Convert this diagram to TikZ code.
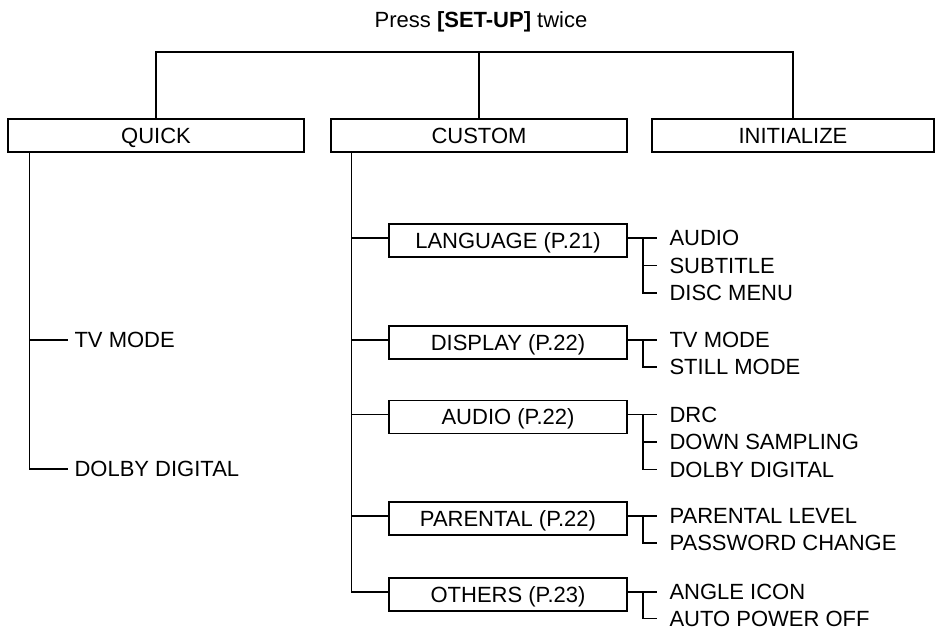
\documentclass[tikz,border=0pt]{standalone}
\usepackage{fontspec}
\setmainfont{Liberation Sans}
\usepackage{tikz}

\tikzset{
  menubox/.style={draw,minimum height=33pt,inner sep=0pt,text height=15.8pt,text depth=0pt},
  item/.style={anchor=west,inner ysep=0pt,inner xsep=12pt,text height=15.8pt,text depth=0pt},
}

\begin{document}
\begin{tikzpicture}[x=1pt,y=-1pt,line width=1.1pt,font=\fontsize{22}{26}\selectfont]
\useasboundingbox (0,0) rectangle (935,629);
\node (title) at (481,22) {Press \textbf{[SET-UP]} twice};
\node[menubox,minimum width=296pt] (quick) at (156,135.5) {QUICK};
\node[menubox,minimum width=296pt] (custom) at (479,135.5) {CUSTOM};
\node[menubox,minimum width=282pt] (init) at (793,135.5) {INITIALIZE};
\coordinate (bar) at (475,52);
\draw (quick.north) |- (bar) -| (init.north);
\draw (custom.north) -- (custom.north |- bar);
% quick
\node[item,inner xsep=6pt] (qtv) at (68,340) {TV MODE};
\node[item,inner xsep=6pt] (qdolby) at (68,469) {DOLBY DIGITAL};
\coordinate (qs) at ([xshift=22pt]quick.south west);
\draw (qs) |- (qdolby.west);
\draw (qs |- qtv.west) -- (qtv.west);
% custom
\node[menubox,minimum width=238pt] (lang) at (508,240.5) {LANGUAGE (P.21)};
\node[menubox,minimum width=238pt] (disp) at (508,342.5) {DISPLAY (P.22)};
\node[menubox,minimum width=238pt] (aud) at (508,417) {AUDIO (P.22)};
\node[menubox,minimum width=238pt] (par) at (508,518.5) {PARENTAL (P.22)};
\node[menubox,minimum width=238pt] (oth) at (508,594.5) {OTHERS (P.23)};
\node[item] (l1) at (657,238) {AUDIO};
\node[item] (l2) at (657,265.5) {SUBTITLE};
\node[item] (l3) at (657,293) {DISC MENU};
\node[item] (d1) at (657,340) {TV MODE};
\node[item] (d2) at (657,367) {STILL MODE};
\node[item] (a1) at (657,414.5) {DRC};
\node[item] (a2) at (657,442) {DOWN SAMPLING};
\node[item] (a3) at (657,469.5) {DOLBY DIGITAL};
\node[item] (p1) at (657,516) {PARENTAL LEVEL};
\node[item] (p2) at (657,543) {PASSWORD CHANGE};
\node[item] (o1) at (657,592) {ANGLE ICON};
\node[item] (o2) at (657,618.5) {AUTO POWER OFF};
\coordinate (cs) at ([xshift=21pt]custom.south west);
\draw (cs) |- (oth.west |- o1.west);
\draw (cs |- l1.west) -- (lang.west |- l1.west);
\draw (cs |- d1.west) -- (disp.west |- d1.west);
\draw (cs |- a1.west) -- (aud.west |- a1.west);
\draw (cs |- p1.west) -- (par.west |- p1.west);
% sub items
\draw (lang.east |- l1.west) -- (l1.west);
\draw ([xshift=-14pt]l1.west) |- (l3.west);
\draw ([xshift=-14pt]l2.west) -- (l2.west);
\draw (disp.east |- d1.west) -- (d1.west);
\draw ([xshift=-14pt]d1.west) |- (d2.west);
\draw (aud.east |- a1.west) -- (a1.west);
\draw ([xshift=-14pt]a1.west) |- (a3.west);
\draw ([xshift=-14pt]a2.west) -- (a2.west);
\draw (par.east |- p1.west) -- (p1.west);
\draw ([xshift=-14pt]p1.west) |- (p2.west);
\draw (oth.east |- o1.west) -- (o1.west);
\draw ([xshift=-14pt]o1.west) |- (o2.west);
\end{tikzpicture}
\end{document}
